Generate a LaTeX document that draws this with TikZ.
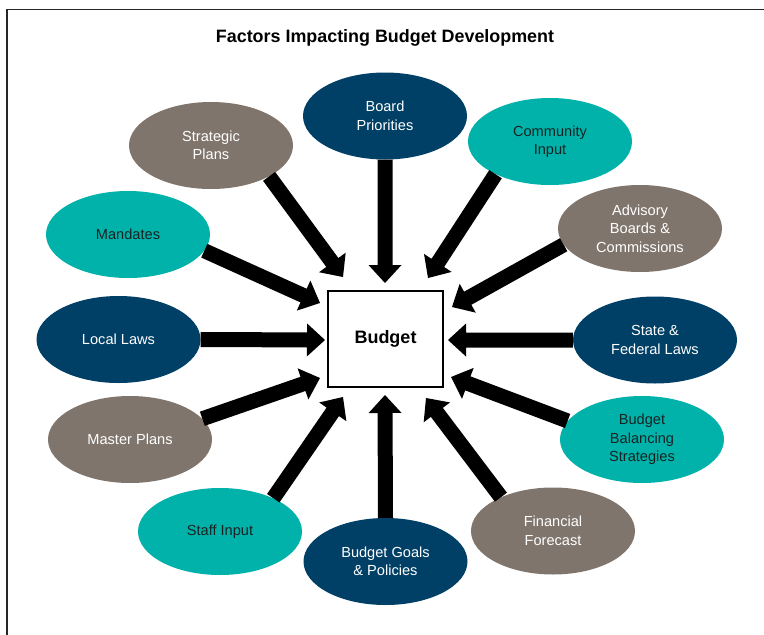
\documentclass[tikz,border=0pt]{standalone}
\usepackage{fontspec}
\setmainfont{Liberation Sans}
\usetikzlibrary{calc,shapes.geometric}
\definecolor{navy}{RGB}{1,64,102}
\definecolor{teal2}{RGB}{0,178,169}
\definecolor{taupe}{RGB}{128,117,108}
\definecolor{darktxt}{RGB}{25,35,35}
\newcommand{\blockarr}[2]{%
  \coordinate (bas) at (#1);
  \coordinate (bat) at (#2);
  \coordinate (bah) at ($(bat)!18pt!(bas)$);
  \fill[black] ($(bas)!7.5pt!90:(bat)$) -- ($(bah)!7.5pt!90:(bat)$) -- ($(bah)!16.5pt!90:(bat)$) -- (bat) -- ($(bah)!16.5pt!-90:(bat)$) -- ($(bah)!7.5pt!-90:(bat)$) -- ($(bas)!7.5pt!-90:(bat)$) -- cycle;
}
\tikzset{
  factor/.style={ellipse, minimum width=164pt, minimum height=87pt, inner sep=0pt, align=center,
    font=\fontsize{14.6}{18.5}\selectfont},
  fnavy/.style={factor, fill=navy, text=white},
  fteal/.style={factor, fill=teal2, text=darktxt},
  ftaupe/.style={factor, fill=taupe, text=white},
}
\begin{document}
\begin{tikzpicture}[x=1pt,y=-1pt]
\useasboundingbox (0,0) rectangle (764,635);
\fill[white] (0,0) rectangle (764,635);
\draw[line width=1.8pt, black!85] (7,635) -- (7,9.5) -- (764,9.5);
\node[font=\bfseries\fontsize{17.9}{21}\selectfont, anchor=base] (title) at (385,42.5) {Factors Impacting Budget Development};

\node[draw=black, line width=2pt, minimum width=115pt, minimum height=96pt, font=\bfseries\fontsize{18}{21}\selectfont] (budget) at (385.5,339) {\raisebox{-1.5pt}{Budget}};

\node[fnavy]  (board)  at (385,116)   {Board\\Priorities};
\node[ftaupe] (strat)  at (211,145.5) {Strategic\\Plans};
\node[fteal]  (mand)   at (128,234.5) {Mandates};
\node[fnavy]  (local)  at (118.5,339.5) {Local Laws};
\node[ftaupe] (master) at (130,439.5) {Master Plans};
\node[fteal]  (staff)  at (220,531.5) {Staff Input};
\node[fnavy]  (goals)  at (385.5,561.5) {Budget Goals\\\& Policies};
\node[ftaupe] (fin)    at (553,531)   {Financial\\Forecast};
\node[fteal]  (bal)    at (642,439.5) {Budget\\Balancing\\Strategies};
\node[fnavy]  (state)  at (655,340)   {State \&\\Federal Laws};
\node[ftaupe] (adv)    at (640,228.5) {Advisory\\Boards \&\\Commissions};
\node[fteal]  (comm)   at (550,141.5) {Community\\Input};

\coordinate (t1) at (385,283);
\coordinate (t2) at (343,277);
\coordinate (t3) at (320,303);
\coordinate (t4) at (325,340);
\coordinate (t5) at (320,378);
\coordinate (t6) at (343,397);
\coordinate (t7) at (385,395);
\coordinate (t8) at (426,398);
\coordinate (t9) at (451,377);
\coordinate (t10) at (448,340);
\coordinate (t11) at (452,307);
\coordinate (t12) at (428,278);

\blockarr{board.-90}{t1}
\blockarr{strat.-28.3}{t2}
\blockarr{mand.-12.6}{t3}
\blockarr{local.0}{t4}
\blockarr{master.16.3}{t5}
\blockarr{staff.32.6}{t6}
\blockarr{goals.90}{t7}
\blockarr{fin.147.3}{t8}
\blockarr{bal.166.3}{t9}
\blockarr{state.180}{t10}
\blockarr{adv.-168.9}{t11}
\blockarr{comm.-149.4}{t12}
\end{tikzpicture}
\end{document}
